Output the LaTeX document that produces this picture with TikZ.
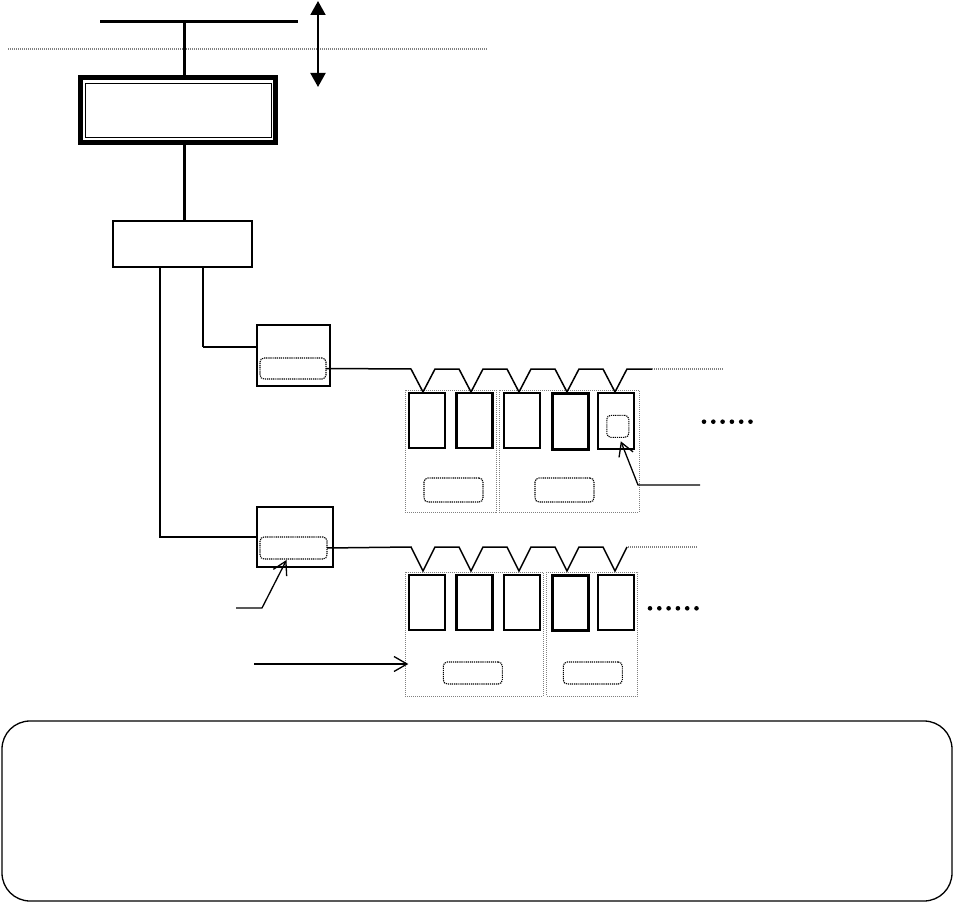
\documentclass[tikz,border=0pt]{standalone}
\usetikzlibrary{arrows.meta}
\begin{document}
\begin{tikzpicture}[x=1pt,y=-1pt,
  box/.style={draw,line width=2pt,inner sep=0pt,outer sep=0pt},
  dev/.style={draw,line width=2.2pt,inner sep=0pt,outer sep=0pt,minimum width=36pt,minimum height=55pt},
  devb/.style={dev,line width=3pt},
  port/.style={draw,dash pattern=on 1.2pt off 0.9pt,line width=1.1pt,rounded corners=4pt,inner sep=0pt,outer sep=0pt},
  cont/.style={draw=gray,dash pattern=on 1pt off 1pt,line width=1pt,inner sep=0pt,outer sep=0pt},
  gline/.style={draw=gray,dash pattern=on 1pt off 1pt,line width=1.1pt},
  barb/.style={-{Straight Barb[length=13pt,width=15pt]},line width=1.3pt},
  dotmark/.style={fill=black,circle,inner sep=0pt,minimum size=4.6pt}]
\useasboundingbox (0,0) rectangle (954,904);

% top bus and boundary
\coordinate (busL) at (100,22);
\coordinate (busR) at (298,22);
\coordinate (busT) at (184,22);
\draw[line width=3pt] (busL) -- (busR);
\coordinate (gl1) at (8,49);
\coordinate (gl2) at (488,49);
\draw[gline] (gl1) -- (gl2);
\coordinate (ua) at (318,1);
\coordinate (ub) at (318,87);
\draw[line width=2pt,{Triangle[length=14pt,width=15pt]}-{Triangle[length=14pt,width=15pt]}] (ua) -- (ub);

% main (double-framed) box
\node[draw,line width=5pt,inner sep=0pt,outer sep=0pt,minimum width=195pt,minimum height=65pt] (main) at (178,110) {};
\node[draw,line width=1.6pt,inner sep=0pt,minimum width=186pt,minimum height=54pt] (maini) at (178.5,110.5) {};
\draw[line width=3pt] (busT) -- (busT |- main.north);
\node[box,minimum width=139pt,minimum height=46pt] (ctrl) at (182.5,244) {};
\draw[line width=3pt] (busT |- main.south) -- (busT |- ctrl.north);

% switches
\node[box,minimum width=73pt,minimum height=61pt] (sw1) at (293.5,355.5) {};
\node[port,minimum width=66pt,minimum height=21pt] (p1) at (293,368.5) {};
\node[box,minimum width=76pt,minimum height=60pt] (sw2) at (295,537) {};
\node[port,minimum width=67pt,minimum height=22pt] (p2) at (293.5,548) {};

\coordinate (t1) at (203,347);
\coordinate (t2) at (160,537);
\draw[line width=1.3pt] (ctrl.south -| t1) -- (t1);
\draw[line width=2pt] (t1) -- (sw1.west |- t1);
\draw[line width=1.3pt] (ctrl.south -| t2) |- (sw2.west |- t2);

% row 1 containers and devices
\node[cont,minimum width=91pt,minimum height=122pt] (c11) at (450.5,451) {};
\node[cont,minimum width=140pt,minimum height=122pt] (c12) at (569,451) {};
\node[dev] (d11) at (427,420.5) {};
\node[dev] (d12) at (474.5,420.5) {};
\node[dev] (d13) at (522.3,420.5) {};
\node[devb,minimum height=56pt] (d14) at (570,421) {};
\node[dev,minimum height=56pt] (d15) at (616,421) {};
\node[port,minimum width=22pt,minimum height=22pt] (sm) at (617.8,426.3) {};
\node[port,minimum width=59pt,minimum height=24pt] (r11) at (453.5,490) {};
\node[port,minimum width=59pt,minimum height=24pt] (r12) at (564.5,490) {};

% row 2 containers and devices
\node[cont,minimum width=138pt,minimum height=124pt] (c21) at (474.3,634) {};
\node[cont,minimum width=91pt,minimum height=124pt] (c22) at (592.2,634) {};
\node[dev] (d21) at (427,602.5) {};
\node[dev] (d22) at (474.5,602.5) {};
\node[dev] (d23) at (522.3,602.5) {};
\node[devb] (d24) at (570,602.5) {};
\node[dev] (d25) at (616,602.5) {};
\node[port,minimum width=59pt,minimum height=22pt] (r21) at (472.8,673) {};
\node[port,minimum width=59pt,minimum height=22pt] (r22) at (592.8,673) {};

% zigzag links
\draw[line width=1.5pt,line join=miter] (p1.east) -- (411,369)
  -- (423,392) -- (435,369) -- (459,369)
  -- (471,392) -- (483,369) -- (507,369)
  -- (519,392) -- (531,369) -- (555,369)
  -- (567,392) -- (579,369) -- (603,369)
  -- (615,392) -- (627,369) -- (652,369);
\coordinate (e1) at (723,369);
\draw[gline] (652,369) -- (e1);

\draw[line width=1.5pt,line join=miter] (p2.east) -- (411,547)
  -- (423,571) -- (435,547) -- (459,547)
  -- (471,571) -- (483,547) -- (507,547)
  -- (519,571) -- (531,547) -- (555,547)
  -- (567,571) -- (579,547) -- (603,547)
  -- (615,571) -- (627,547);
\coordinate (e2) at (698,547);
\draw[gline] (628,547) -- (e2);

% callout arrows
\coordinate (a1) at (700,485);
\coordinate (a1k) at (638,485);
\draw[barb] (a1) -- (a1k) -- ([xshift=3pt,yshift=-4pt]sm.south);
\coordinate (a2) at (236,608);
\coordinate (a2k) at (262,608);
\draw[barb] (a2) -- (a2k) -- ([xshift=-7pt,yshift=-1pt]p2.south);
\coordinate (a3) at (254,664);
\draw[barb] (a3) -- ([xshift=3pt]c21.west |- a3);

% ellipsis dots
\foreach \i in {0,...,5} {
  \node[dotmark] (da\i) at (704+9.3*\i,421.7) {};
  \node[dotmark] (db\i) at (650+9.3*\i,608.3) {};
}

% note box
\node[draw,line width=1.3pt,rounded corners=28pt,inner sep=0pt,minimum width=950pt,minimum height=180pt] (note) at (477,811) {};
\end{tikzpicture}
\end{document}
